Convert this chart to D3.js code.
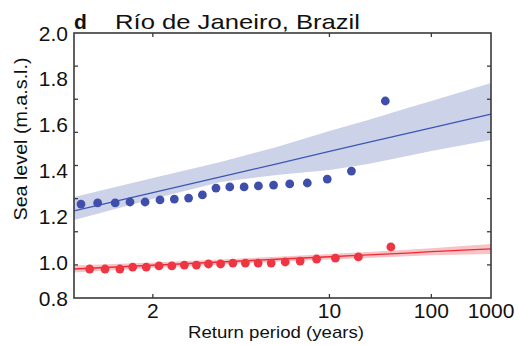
<!DOCTYPE html>
<html>
<head>
<meta charset="utf-8">
<script src="https://cdn.jsdelivr.net/npm/d3@7"></script>
<style>
  body { margin: 0; background: #fff; }
  text { font-family: "Liberation Sans", Arial, sans-serif; fill: #111; }
</style>
</head>
<body>
<script>
(function(){

    //return periods (years) of the plotted annual maxima
    var blueT = [1.53, 1.61, 1.71, 1.81, 1.93, 2.07, 2.23, 2.42, 2.64, 2.9, 3.22, 3.63, 4.14, 4.83, 5.8, 7.25, 9.67, 14.5, 29];
    var blueLevel = [1.253, 1.258, 1.258, 1.262, 1.262, 1.271, 1.275, 1.279, 1.293, 1.323, 1.328, 1.328, 1.332, 1.336, 1.341, 1.345, 1.362, 1.397, 1.703];

    var redT = [1.57, 1.65, 1.74, 1.83, 1.94, 2.06, 2.2, 2.36, 2.54, 2.75, 3.0, 3.3, 3.67, 4.13, 4.71, 5.5, 6.6, 8.25, 11, 16.5, 33];
    var redLevel = [0.961, 0.961, 0.961, 0.972, 0.972, 0.978, 0.978, 0.983, 0.983, 0.989, 0.989, 0.994, 0.994, 0.994, 0.994, 1.0, 1.004, 1.013, 1.017, 1.022, 1.066];

    //fitted curves and confidence bands
    var fitT = [1.5, 2, 3, 5, 10, 20, 50, 100, 1000];
    var blueFit = [1.223, 1.303, 1.372, 1.429, 1.483, 1.522, 1.562, 1.586, 1.646];
    var blueLo = [1.183, 1.275, 1.349, 1.380, 1.402, 1.428, 1.463, 1.485, 1.533];
    var blueHi = [1.284, 1.367, 1.437, 1.502, 1.572, 1.620, 1.672, 1.703, 1.782];
    var redFit = [0.961, 0.982, 1.000, 1.012, 1.023, 1.031, 1.039, 1.045, 1.057];
    var redLo = [0.942, 0.967, 0.986, 1.001, 1.011, 1.017, 1.025, 1.029, 1.035];
    var redHi = [0.981, 0.997, 1.011, 1.023, 1.035, 1.044, 1.053, 1.060, 1.079];

    //axis ticks
    var xTicks = [2, 10, 100];
    var xLabels = [2, 10, 100, 1000];
    var yLabels = [0.8, 1.0, 1.2, 1.4, 1.6, 1.8, 2.0];

    var width = 518, height = 345,
        left = 74, top = 33,
        innerWidth = 417, innerHeight = 265;

    var svg = d3.select("body")
        .append("svg")
        .attr("width", width)
        .attr("height", height);

    var plot = svg.append("g")
        .attr("transform", "translate(" + left + "," + top + ")");

    //double-log return period axis
    function lnln(t){ return Math.log(Math.log(t)); }
    var xLin = d3.scaleLinear()
        .domain([lnln(1.5), lnln(1000)])
        .range([0, innerWidth]);
    var x = function(t){ return xLin(lnln(t)); };

    var y = d3.scaleLinear()
        .domain([0.8, 1.0, 2.0])
        .range([innerHeight, 229, 0]);

    //tick marks on the frame are evenly spaced
    var tickY = d3.scaleLinear().domain([0, 8]).range([innerHeight, 0]);

    var area = d3.area()
        .x(function(d){ return x(d.t); })
        .y0(function(d){ return y(d.lo); })
        .y1(function(d){ return y(d.hi); });

    var line = d3.line()
        .x(function(d){ return x(d.t); })
        .y(function(d){ return y(d.v); });

    function drawSeries(lo, hi, fit, ts, levels, bandColor, lineColor, dotColor){
        var band = fitT.map(function(t, i){ return {t: t, lo: lo[i], hi: hi[i]}; });
        plot.append("path")
            .datum(band)
            .attr("d", area)
            .attr("fill", bandColor);

        plot.append("path")
            .datum(fitT.map(function(t, i){ return {t: t, v: fit[i]}; }))
            .attr("d", line)
            .attr("fill", "none")
            .attr("stroke", lineColor)
            .attr("stroke-width", 1.3);

        plot.selectAll(null)
            .data(ts)
            .enter()
            .append("circle")
            .attr("cx", function(d){ return x(d); })
            .attr("cy", function(d, i){ return y(levels[i]); })
            .attr("r", 4.4)
            .attr("fill", dotColor);
    }

    drawSeries(blueLo, blueHi, blueFit, blueT, blueLevel, "#ccd3e8", "#3c56b4", "#3f4eab");
    drawSeries(redLo, redHi, redFit, redT, redLevel, "#f8c3c6", "#ec2a34", "#ef3442");

    //frame
    plot.append("rect")
        .attr("width", innerWidth)
        .attr("height", innerHeight)
        .attr("fill", "none")
        .attr("stroke", "#3a3a3a")
        .attr("stroke-width", 1.6);

    //inner tick marks
    var tickG = plot.append("g").attr("stroke", "#3a3a3a").attr("stroke-width", 1.3);
    d3.range(1, 8).forEach(function(k){
        tickG.append("line").attr("x1", 0).attr("x2", 4).attr("y1", tickY(k)).attr("y2", tickY(k));
        tickG.append("line").attr("x1", innerWidth - 4).attr("x2", innerWidth).attr("y1", tickY(k)).attr("y2", tickY(k));
    });
    xTicks.forEach(function(t){
        tickG.append("line").attr("x1", x(t)).attr("x2", x(t)).attr("y1", 0).attr("y2", 4);
        tickG.append("line").attr("x1", x(t)).attr("x2", x(t)).attr("y1", innerHeight - 4).attr("y2", innerHeight);
    });

    //tick labels
    plot.selectAll(".xlab")
        .data(xLabels)
        .enter()
        .append("text")
        .attr("class", "xlab")
        .attr("x", function(d){ return x(d); })
        .attr("y", innerHeight + 20)
        .attr("text-anchor", "middle")
        .style("font-size", "21px")
        .text(function(d){ return d; });

    plot.selectAll(".ylab")
        .data(yLabels)
        .enter()
        .append("text")
        .attr("class", "ylab")
        .attr("x", -6)
        .attr("y", function(d){ return y(d); })
        .attr("dy", "0.36em")
        .attr("text-anchor", "end")
        .style("font-size", "21px")
        .text(function(d){ return d.toFixed(1); });

    //axis titles
    svg.append("text")
        .attr("x", 276)
        .attr("y", 338)
        .attr("text-anchor", "middle")
        .attr("textLength", 176)
        .attr("lengthAdjust", "spacingAndGlyphs")
        .style("font-size", "17px")
        .text("Return period (years)");

    svg.append("text")
        .attr("transform", "translate(27,139) rotate(-90)")
        .attr("text-anchor", "middle")
        .attr("textLength", 163)
        .attr("lengthAdjust", "spacingAndGlyphs")
        .style("font-size", "18px")
        .text("Sea level (m.a.s.l.)");

    //panel title
    svg.append("text")
        .attr("x", 74)
        .attr("y", 29)
        .style("font-size", "21px")
        .style("font-weight", "bold")
        .text("d");

    svg.append("text")
        .attr("x", 115)
        .attr("y", 29)
        .attr("textLength", 245)
        .attr("lengthAdjust", "spacingAndGlyphs")
        .style("font-size", "21px")
        .text("Río de Janeiro, Brazil");

})();
</script>
</body>
</html>
